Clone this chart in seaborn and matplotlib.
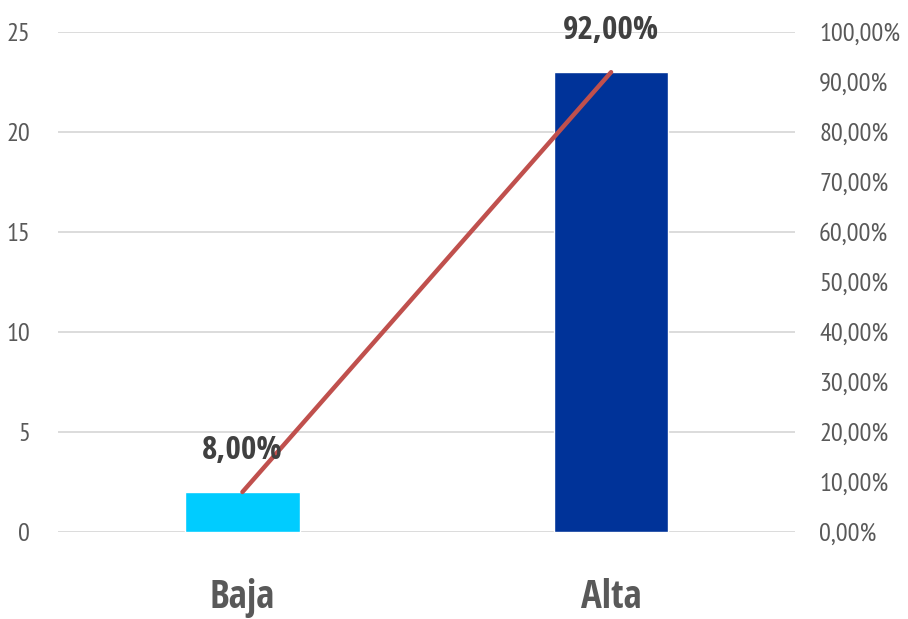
import numpy as np
import pandas as pd
import matplotlib.pyplot as plt
import seaborn as sns
from matplotlib.ticker import FuncFormatter

categorias = ["Baja", "Alta"]
frecuencia = [2, 23]
porcentaje = [8.0, 92.0]
etiquetas = ["8,00%", "92,00%"]
colores = ["#00CCFF", "#003399"]

df = pd.DataFrame({"nivel": categorias, "n": frecuencia, "pct": porcentaje})

sns.set_style("white")
plt.rcParams["font.family"] = ["PT Sans Narrow", "DejaVu Sans"]
negrita = ["Open Sans Condensed", "DejaVu Sans"]

fig = plt.figure(figsize=(9.08, 6.19), dpi=100)
ax = fig.add_axes([0.064, 0.1406, 0.812, 0.8074])

# barras: frecuencia por nivel
sns.barplot(data=df, x="nivel", y="n", hue="nivel", palette=colores,
            width=0.31, legend=False, ax=ax, saturation=1)
ax.set_ylim(0, 25)
ax.set_xlim(-0.5, 1.5)
ax.set_yticks([0, 5, 10, 15, 20, 25])
ax.yaxis.grid(True, color="#D9D9D9", linewidth=1.3)
ax.set_axisbelow(True)
ax.set_xlabel("")
ax.set_ylabel("")
for s in ax.spines.values():
    s.set_visible(False)
ax.tick_params(axis="y", length=0, pad=20, labelsize=19, labelcolor="#595959")
ax.tick_params(axis="x", length=0, pad=33, labelcolor="#595959")
for t in ax.get_xticklabels():
    t.set_family(negrita)
    t.set_fontweight("bold")
    t.set_fontsize(28)

# linea: porcentaje en eje secundario
ax2 = ax.twinx()
sns.lineplot(data=df, x="nivel", y="pct", color="#C0504D", linewidth=3.2,
             ax=ax2, solid_capstyle="round")
ax2.set_ylim(0, 100)
ax2.set_xlim(-0.5, 1.5)
ax2.set_yticks(np.arange(0, 101, 10))
ax2.yaxis.set_major_formatter(FuncFormatter(lambda v, p: f"{v:.2f}%".replace(".", ",")))
ax2.set_ylabel("")
for s in ax2.spines.values():
    s.set_visible(False)
ax2.tick_params(axis="y", length=0, pad=17, labelsize=19, labelcolor="#595959")

for i, (p, lab) in enumerate(zip(porcentaje, etiquetas)):
    ax2.annotate(lab, (i, p), xytext=(0, 18), textcoords="offset points",
                 ha="center", va="bottom", fontsize=24, fontweight="bold",
                 family=negrita, color="#404040")

fig.savefig("out.png", dpi=100)
